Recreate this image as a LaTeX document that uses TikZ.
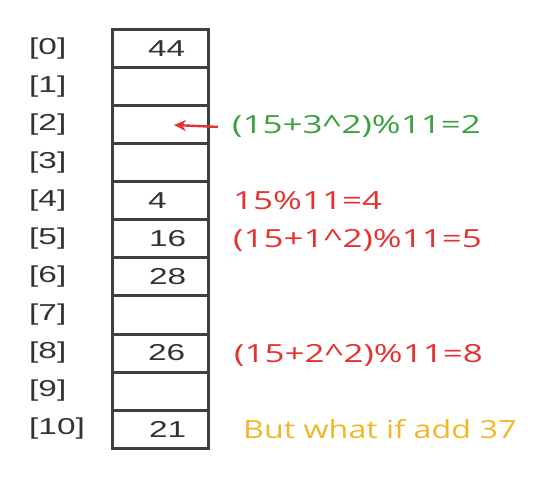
\documentclass[tikz,border=0pt]{standalone}
\usepackage{fontspec}
\usepackage{tikz}
\usetikzlibrary{arrows.meta, positioning}
\newfontfamily\idxfont[FakeStretch=1.45]{Liberation Sans}
\newfontfamily\notefont[FakeStretch=1.4]{Open Sans}
\newfontfamily\askfont[FakeStretch=1.29]{Open Sans}
\definecolor{probegreen}{RGB}{58,160,66}
\definecolor{probered}{RGB}{228,50,48}
\definecolor{probegold}{RGB}{240,184,40}
\definecolor{gridgray}{RGB}{64,64,64}
\tikzset{
  cell/.style={rectangle, draw=gridgray, line width=3pt, minimum width=96pt, minimum height=38pt, inner sep=0pt},
  idx/.style={anchor=west, inner sep=0pt, text=black!80, font=\idxfont\fontsize{23}{27}\selectfont},
  num/.style={anchor=west, inner sep=0pt, text=black!80, font=\idxfont\fontsize{23}{27}\selectfont},
  note/.style={anchor=base west, inner sep=0pt, font=\notefont\fontsize{25}{29}\selectfont},
  arrow/.style={-{Stealth[length=12pt, width=11pt]}, line width=2.4pt, probered}
}
\begin{document}
\begin{tikzpicture}[x=1pt, y=-1pt]
  \useasboundingbox (0,0) rectangle (547,484);
  % hash table cells and indices
  \foreach \i in {0,...,10} {
    \node[cell] (c\i) at (160,{49+38*\i}) {};
    \node[idx] (i\i) at (29,{49+38*\i}) {[\i]};
  }
  \node[num] (v0) at ([xshift=-12pt]c0.center) {44};
  \node[num] (v4) at ([xshift=-12pt]c4.center) {4};
  \node[num] (v5) at ([xshift=-11pt]c5.center) {16};
  \node[num] (v6) at ([xshift=-11pt]c6.center) {28};
  \node[num] (v8) at ([xshift=-12pt]c8.center) {26};
  \node[num] (v10) at ([xshift=-11pt]c10.center) {21};
  % probe notes
  \node[note, text=probegreen] (t2) at (232,{49+38*2+9}) {(15+3\^{}2)\%11=2};
  \node[note, text=probered] (t4) at (233,{49+38*4+9}) {15\%11=4};
  \node[note, text=probered] (t5) at (233,{49+38*5+9}) {(15+1\^{}2)\%11=5};
  \node[note, text=probered] (t8) at (234,{49+38*8+9}) {(15+2\^{}2)\%11=8};
  \node[note, font=\askfont\fontsize{25}{29}\selectfont, text=probegold] (t10) at (243,{49+38*10+9}) {But what if add 37};
  \draw[arrow] ([xshift=-14pt]t2.west) -- ([xshift=14pt]c2.center);
\end{tikzpicture}
\end{document}
